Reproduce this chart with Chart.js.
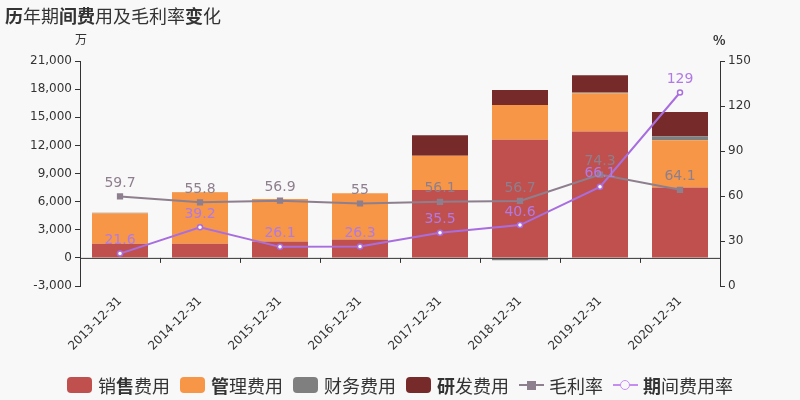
<!DOCTYPE html>
<html>
<head>
<meta charset="utf-8">
<script src="https://cdn.jsdelivr.net/npm/chart.js@4/dist/chart.umd.min.js"></script>
<style>
    body { margin: 0; background: #f8f8f8; font-family: "Noto Sans CJK SC", "Noto Sans", sans-serif; }
    #wrap { position: relative; width: 800px; height: 400px; }
    #title { position: absolute; left: 5px; top: 2px; font-size: 18px; color: #333; }
    .unit { position: absolute; top: 30px; font-size: 12px; color: #333; }
    #legend { position: absolute; left: 0; width: 800px; top: 373px; display: flex; justify-content: center; font-size: 18px; color: #333; line-height: 24px; }
    .item { display: flex; align-items: center; margin: 0 5px; }
    .box { width: 25px; height: 16px; border-radius: 4px; margin-right: 6px; }
    .lineIcon { position: relative; width: 25px; height: 16px; margin-right: 5px; }
    .lineIcon::before { content: ""; position: absolute; left: 0; right: 0; top: 7px; height: 2px; background: var(--c); }
    .mk { position: absolute; left: 7px; top: 3px; width: 10px; height: 10px; box-sizing: border-box; }
    b { font-weight: bold; }
</style>
</head>
<body>
<div id="wrap">
    <canvas id="chart" width="800" height="400"></canvas>
    <div id="title"><b>历</b>年期<b>间费</b>用及毛利率<b>变</b>化</div>
    <div class="unit" style="left:75px">万</div>
    <div class="unit" style="left:713px;font-weight:bold;font-size:13px">%</div>
    <div id="legend">
        <div class="item"><span class="box" style="background:#c0504d"></span>销<b>售</b>费用</div>
        <div class="item"><span class="box" style="background:#f79646"></span><b>管</b>理费用</div>
        <div class="item"><span class="box" style="background:#7f7f7f"></span>财务费用</div>
        <div class="item"><span class="box" style="background:#772a2a"></span><b>研</b>发费用</div>
        <div class="item"><span class="lineIcon" style="--c:#8e7f8e"><span class="mk" style="background:#8e7f8e;left:8px;top:4px;width:9px;height:9px"></span></span>毛利率</div>
        <div class="item"><span class="lineIcon" style="--c:#c48ef0"><span class="mk" style="background:#f8f8f8;border:1.5px solid #c48ef0;border-radius:50%"></span></span><b>期</b>间费用率</div>
    </div>
</div>
<script>
const years = ['2013-12-31', '2014-12-31', '2015-12-31', '2016-12-31', '2017-12-31', '2018-12-31', '2019-12-31', '2020-12-31'];
const salesCost = [1520, 1500, 1740, 1950, 7250, 12610, 13470, 7500];
const adminCost = [3250, 5500, 4550, 4950, 3650, 3700, 4090, 5040];
const financeCost = [50, 20, -30, -100, -100, -250, 80, 430];
const rdCost = [0, 0, 0, 0, 2180, 1600, 1840, 2590];
const grossMargin = [59.7, 55.8, 56.9, 55, 56.1, 56.7, 74.3, 64.1];
const periodRate = [21.6, 39.2, 26.1, 26.3, 35.5, 40.6, 66.1, 129];

const axisColor = '#333';

// draws the zero line, small category ticks on it and the value labels on the lines
const extras = {
    id: 'extras',
    afterDatasetsDraw(chart) {
        const ctx = chart.ctx;
        const area = chart.chartArea;
        const y0 = chart.scales.y.getPixelForValue(0);
        const x = chart.scales.x;
        ctx.save();
        ctx.strokeStyle = axisColor;
        ctx.lineWidth = 1;
        ctx.beginPath();
        ctx.moveTo(area.left, y0 + 0.5);
        ctx.lineTo(area.right, y0 + 0.5);
        for (let i = 1; i < years.length; i++) {
            const px = Math.round((x.getPixelForValue(i - 1) + x.getPixelForValue(i)) / 2) + 0.5;
            ctx.moveTo(px, y0);
            ctx.lineTo(px, y0 + 5);
        }
        ctx.stroke();

        ctx.font = '14px "DejaVu Sans", sans-serif';
        ctx.textAlign = 'center';
        ctx.textBaseline = 'bottom';
        chart.data.datasets.forEach((ds, di) => {
            if (ds.type !== 'line') return;
            const meta = chart.getDatasetMeta(di);
            ctx.fillStyle = ds.labelColor;
            meta.data.forEach((pt, i) => {
                ctx.fillText(String(ds.data[i]), pt.x, pt.y - 6);
            });
        });
        ctx.restore();
    }
};

new Chart(document.getElementById('chart'), {
    data: {
        labels: years,
        datasets: [
            { type: 'bar', label: '销售费用', data: salesCost, backgroundColor: '#c0504d', stack: 's', order: 1 },
            { type: 'bar', label: '管理费用', data: adminCost, backgroundColor: '#f79646', stack: 's', order: 1 },
            { type: 'bar', label: '财务费用', data: financeCost, backgroundColor: '#7f7f7f', stack: 's', order: 1 },
            { type: 'bar', label: '研发费用', data: rdCost, backgroundColor: '#772a2a', stack: 's', order: 1 },
            {
                type: 'line', label: '毛利率', data: grossMargin, yAxisID: 'y1', order: 0,
                borderColor: '#8e7f8e', backgroundColor: '#8e7f8e', borderWidth: 2,
                pointStyle: 'rect', pointRadius: 3, labelColor: '#8e7f8e'
            },
            {
                type: 'line', label: '期间费用率', data: periodRate, yAxisID: 'y1', order: 0,
                borderColor: '#a86ee0', backgroundColor: '#ffffff', borderWidth: 2,
                pointRadius: 2.5, pointBorderWidth: 1.5, labelColor: '#b07ae6'
            }
        ]
    },
    options: {
        responsive: false,
        animation: false,
        layout: { padding: { top: 61, left: 0, right: 0, bottom: 0 } },
        plugins: { legend: { display: false }, tooltip: { enabled: false } },
        datasets: { bar: { barPercentage: 0.7, categoryPercentage: 1 } },
        scales: {
            x: {
                stacked: true,
                grid: { display: false },
                border: { display: false },
                ticks: { color: axisColor, font: { size: 12, family: 'DejaVu Sans' }, minRotation: 45, maxRotation: 45, padding: 0 },
                afterFit(scale) { scale.height = 114; }
            },
            y: {
                stacked: true,
                min: -3000, max: 21000,
                grid: { drawOnChartArea: false, tickLength: 5, color: axisColor },
                border: { color: axisColor },
                ticks: { stepSize: 3000, color: axisColor, font: { size: 12, family: 'DejaVu Sans' }, padding: 3 },
                afterFit(scale) { scale.width = 80; }
            },
            y1: {
                position: 'right',
                min: 0, max: 150,
                grid: { drawOnChartArea: false, tickLength: 5, color: axisColor },
                border: { color: axisColor },
                ticks: { stepSize: 30, color: axisColor, font: { size: 12, family: 'DejaVu Sans' }, padding: 3 },
                afterFit(scale) { scale.width = 80; }
            }
        }
    },
    plugins: [extras]
});
</script>
</body>
</html>
